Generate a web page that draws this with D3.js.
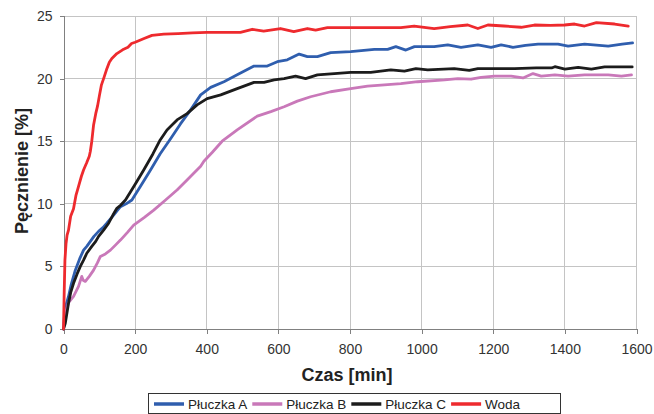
<!DOCTYPE html>
<html>
<head>
<meta charset="utf-8">
<script src="https://cdn.jsdelivr.net/npm/d3@7/dist/d3.min.js"></script>
<style>
  html, body { margin: 0; padding: 0; background: #fff; }
  svg { display: block; }
  text { font-family: "Liberation Sans", Arial, sans-serif; }
</style>
</head>
<body>
<svg id="chart" width="654" height="414"></svg>
<script>
// ---------- DATA ----------
const xTicks = [0, 200, 400, 600, 800, 1000, 1200, 1400, 1600];
const yTicks = [0, 5, 10, 15, 20, 25];
const seriesNames = ["Płuczka A", "Płuczka B", "Płuczka C", "Woda"];

const pluczkaA_t = [0, 3, 8, 14, 22, 33, 45, 56, 65, 75, 85, 98, 110, 121, 140, 159, 175, 191, 215, 243, 270, 299, 327, 355, 383, 411, 448, 485, 532, 569, 597, 625, 658, 681, 709, 746, 802, 868, 905, 928, 956, 980, 1035, 1073, 1110, 1157, 1194, 1222, 1255, 1290, 1325, 1381, 1409, 1455, 1521, 1560, 1589];
const pluczkaA_v = [0, 1.2, 2.0, 2.6, 3.6, 4.7, 5.6, 6.3, 6.6, 7.0, 7.4, 7.8, 8.1, 8.45, 9.1, 9.77, 10.0, 10.3, 11.4, 12.7, 14.0, 15.2, 16.4, 17.5, 18.7, 19.3, 19.75, 20.3, 21.0, 21.0, 21.35, 21.5, 21.96, 21.75, 21.75, 22.07, 22.15, 22.33, 22.33, 22.55, 22.28, 22.55, 22.55, 22.7, 22.5, 22.7, 22.5, 22.7, 22.5, 22.65, 22.76, 22.76, 22.6, 22.76, 22.6, 22.75, 22.85];

const pluczkaB_t = [0, 5, 14, 28, 42, 51, 55, 61, 72, 84, 95, 103, 117, 131, 145, 159, 178, 196, 225, 252, 285, 317, 345, 383, 392, 415, 443, 485, 541, 579, 616, 653, 690, 746, 802, 849, 896, 942, 989, 1064, 1101, 1138, 1166, 1203, 1250, 1283, 1311, 1334, 1372, 1409, 1455, 1521, 1558, 1586];
const pluczkaB_v = [0, 1.2, 2.1, 2.6, 3.4, 4.2, 3.9, 3.8, 4.2, 4.7, 5.3, 5.8, 6.0, 6.3, 6.7, 7.1, 7.7, 8.3, 8.9, 9.5, 10.3, 11.1, 11.9, 13.0, 13.4, 14.1, 15.0, 15.9, 17.0, 17.36, 17.75, 18.2, 18.55, 18.95, 19.2, 19.4, 19.5, 19.6, 19.75, 19.9, 20.0, 19.95, 20.1, 20.2, 20.2, 20.05, 20.4, 20.2, 20.3, 20.2, 20.3, 20.3, 20.2, 20.3];

const pluczkaC_t = [0, 5, 14, 20, 28, 38, 47, 56, 65, 79, 90, 98, 112, 126, 138, 149, 160, 173, 186, 201, 224, 250, 270, 289, 317, 345, 373, 401, 439, 485, 532, 560, 588, 616, 648, 676, 709, 756, 802, 858, 914, 952, 984, 1017, 1091, 1133, 1157, 1200, 1260, 1320, 1363, 1372, 1400, 1437, 1474, 1511, 1588];
const pluczkaC_v = [0, 0.45, 2.05, 2.9, 3.65, 4.4, 5.0, 5.5, 6.05, 6.6, 7.0, 7.4, 7.9, 8.45, 9.1, 9.64, 9.9, 10.3, 10.9, 11.6, 12.7, 14.0, 15.1, 15.9, 16.7, 17.2, 17.9, 18.4, 18.7, 19.2, 19.7, 19.7, 19.9, 20.0, 20.2, 20.0, 20.3, 20.4, 20.5, 20.5, 20.7, 20.6, 20.8, 20.7, 20.8, 20.65, 20.8, 20.8, 20.8, 20.85, 20.85, 20.95, 20.75, 20.9, 20.75, 20.93, 20.93];

const woda_t = [0, 2, 4, 7, 10, 14, 20, 28, 35, 42, 50, 56, 65, 72, 75, 79, 84, 90, 95, 100, 106, 112, 120, 128, 135, 149, 165, 180, 190, 200, 225, 247, 280, 320, 360, 400, 450, 494, 527, 559, 606, 643, 681, 704, 737, 800, 870, 942, 979, 1035, 1080, 1129, 1157, 1185, 1230, 1278, 1315, 1360, 1399, 1427, 1455, 1488, 1539, 1577];
const woda_v = [0, 3.0, 5.5, 6.8, 7.5, 7.9, 9.0, 9.6, 10.7, 11.4, 12.2, 12.7, 13.3, 13.8, 14.2, 15.0, 16.3, 17.2, 17.8, 18.6, 19.5, 20.0, 20.7, 21.3, 21.6, 22.0, 22.3, 22.5, 22.8, 22.9, 23.2, 23.45, 23.55, 23.6, 23.65, 23.7, 23.7, 23.7, 23.94, 23.8, 24.0, 23.75, 24.0, 23.88, 24.07, 24.07, 24.07, 24.07, 24.2, 24.0, 24.15, 24.28, 24.0, 24.28, 24.2, 24.1, 24.28, 24.25, 24.28, 24.36, 24.2, 24.47, 24.36, 24.2];

const seriesColors = ["#2f5eae", "#c978b9", "#1c1c1c", "#ee2a2e"];
const seriesT = [pluczkaA_t, pluczkaB_t, pluczkaC_t, woda_t];
const seriesV = [pluczkaA_v, pluczkaB_v, pluczkaC_v, woda_v];

// ---------- LAYOUT ----------
const svg = d3.select("#chart");
const L = 63.5, R = 636.5, T = 16, B = 329;
const x = d3.scaleLinear().domain([0, 1600]).range([L, R]);
const y = d3.scaleLinear().domain([0, 25]).range([B, T]);

// gridlines
const grid = svg.append("g");
grid.selectAll("line.h").data(yTicks.filter(d => d > 0)).enter().append("line")
  .attr("x1", L).attr("x2", R).attr("y1", d => y(d)).attr("y2", d => y(d))
  .attr("stroke", "#c4c4c4").attr("stroke-width", 1).attr("shape-rendering", "crispEdges");
grid.selectAll("line.v").data(xTicks.filter(d => d > 0)).enter().append("line")
  .attr("x1", d => x(d)).attr("x2", d => x(d)).attr("y1", T).attr("y2", B)
  .attr("stroke", "#c4c4c4").attr("stroke-width", 1).attr("shape-rendering", "crispEdges");

// axes
const xAxis = svg.append("g").attr("transform", `translate(0,${B})`)
  .call(d3.axisBottom(x).tickValues(xTicks).tickSize(5).tickPadding(10).tickFormat(d3.format("d")));
const yAxis = svg.append("g").attr("transform", `translate(${L},0)`)
  .call(d3.axisLeft(y).tickValues(yTicks).tickSize(4).tickPadding(7).tickFormat(d3.format("d")));
[xAxis, yAxis].forEach(a => {
  a.select(".domain").attr("stroke", "#808080").attr("shape-rendering", "crispEdges");
  a.selectAll(".tick line").attr("stroke", "#808080").attr("shape-rendering", "crispEdges");
  a.selectAll(".tick text").attr("fill", "#333").style("font-size", "14px")
    .style("font-family", "'Liberation Sans', Arial, sans-serif");
});

// series
const line = d3.line().x(d => x(d[0])).y(d => y(d[1]));
seriesNames.forEach((name, i) => {
  const pts = seriesT[i].map((t, k) => [t, seriesV[i][k]]);
  svg.append("path").datum(pts)
    .attr("d", line).attr("fill", "none")
    .attr("stroke", seriesColors[i]).attr("stroke-width", 2.8)
    .attr("stroke-linejoin", "round").attr("stroke-linecap", "round");
});

// axis titles
svg.append("text").attr("x", 347).attr("y", 381).attr("text-anchor", "middle")
  .style("font-size", "18px").style("font-weight", "bold").attr("fill", "#222").text("Czas [min]");
svg.append("text").attr("transform", "translate(28,171) rotate(-90)").attr("text-anchor", "middle")
  .style("font-size", "18px").style("font-weight", "bold").attr("fill", "#222").text("Pęcznienie [%]");

// legend
const lg = svg.append("g");
const legX = 148, legY = 393, legW = 412, legH = 20;
lg.append("rect").attr("x", legX + 0.5).attr("y", legY + 0.5).attr("width", legW).attr("height", legH)
  .attr("fill", "#fff").attr("stroke", "#333").attr("stroke-width", 1);
let cx = legX + 6;
seriesNames.forEach((name, i) => {
  lg.append("line").attr("x1", cx).attr("x2", cx + 30).attr("y1", legY + 11).attr("y2", legY + 11)
    .attr("stroke", seriesColors[i]).attr("stroke-width", 3.5);
  const t = lg.append("text").attr("x", cx + 34).attr("y", legY + 16)
    .style("font-size", "13.5px").attr("fill", "#222").text(name);
  cx += 34 + t.node().getComputedTextLength() + 5;
});
</script>
</body>
</html>
